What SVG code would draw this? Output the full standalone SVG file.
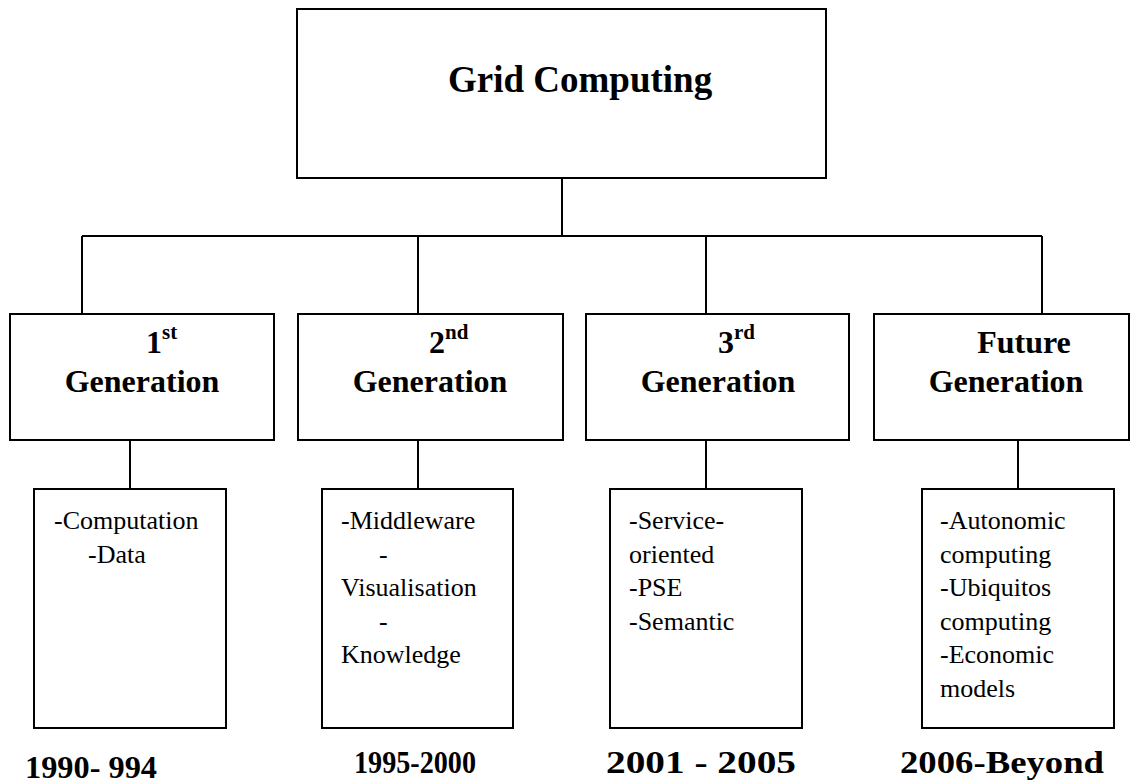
<svg xmlns="http://www.w3.org/2000/svg" width="1131" height="783" viewBox="0 0 1131 783">
  <style>
    .box { fill: #ffffff; stroke: #000000; stroke-width: 2; }
    .wire { fill: none; stroke: #000000; stroke-width: 2; }
    .title { font-family: "Liberation Serif", "Times New Roman", serif; font-weight: bold; font-size: 37px; fill: #000; }
    .gen { font-family: "Liberation Serif", "Times New Roman", serif; font-weight: bold; font-size: 32px; fill: #000; }
    .sup { font-size: 21px; }
    .item { font-family: "Liberation Serif", "Times New Roman", serif; font-size: 26px; fill: #000; }
    .year { font-family: "Liberation Serif", "Times New Roman", serif; font-weight: bold; font-size: 31px; fill: #000; }
  </style>

  <!-- connectors -->
  <g id="connectors">
    <line class="wire" x1="562" y1="178" x2="562" y2="236"/>
    <line class="wire" x1="82" y1="236" x2="1042" y2="236"/>
    <line class="wire" x1="82" y1="236" x2="82" y2="314"/>
    <line class="wire" x1="418" y1="236" x2="418" y2="314"/>
    <line class="wire" x1="706" y1="236" x2="706" y2="314"/>
    <line class="wire" x1="1042" y1="236" x2="1042" y2="314"/>
    <line class="wire" x1="130" y1="440" x2="130" y2="489"/>
    <line class="wire" x1="418" y1="440" x2="418" y2="489"/>
    <line class="wire" x1="706" y1="440" x2="706" y2="489"/>
    <line class="wire" x1="1018" y1="440" x2="1018" y2="489"/>
  </g>

  <!-- root -->
  <g id="grid-computing">
    <rect class="box" x="297" y="9" width="529" height="169"/>
    <text class="title" x="448" y="92">Grid Computing</text>
  </g>

  <!-- generations -->
  <g id="gen-1">
    <rect class="box" x="10" y="314" width="264" height="126"/>
    <text class="gen" x="146" y="353">1<tspan class="sup" dy="-14">st</tspan></text>
    <text class="gen" x="142" y="392" text-anchor="middle">Generation</text>
  </g>
  <g id="gen-2">
    <rect class="box" x="298" y="314" width="265" height="126"/>
    <text class="gen" x="429" y="353">2<tspan class="sup" dy="-14">nd</tspan></text>
    <text class="gen" x="430" y="392" text-anchor="middle">Generation</text>
  </g>
  <g id="gen-3">
    <rect class="box" x="586" y="314" width="263" height="126"/>
    <text class="gen" x="718" y="353">3<tspan class="sup" dy="-14">rd</tspan></text>
    <text class="gen" x="718" y="392" text-anchor="middle">Generation</text>
  </g>
  <g id="gen-future">
    <rect class="box" x="874" y="314" width="255" height="126"/>
    <text class="gen" x="1024" y="353" text-anchor="middle">Future</text>
    <text class="gen" x="1006" y="392" text-anchor="middle">Generation</text>
  </g>

  <!-- topics -->
  <g id="topics-1">
    <rect class="box" x="34" y="489" width="192" height="239"/>
    <text class="item" x="54" y="529">-Computation</text>
    <text class="item" x="88" y="562.5">-Data</text>
  </g>
  <g id="topics-2">
    <rect class="box" x="322" y="489" width="191" height="239"/>
    <text class="item" x="341" y="529">-Middleware</text>
    <text class="item" x="379" y="562.5">-</text>
    <text class="item" x="341" y="596">Visualisation</text>
    <text class="item" x="379" y="629.5">-</text>
    <text class="item" x="341" y="663">Knowledge</text>
  </g>
  <g id="topics-3">
    <rect class="box" x="610" y="489" width="192" height="239"/>
    <text class="item" x="629" y="529">-Service-</text>
    <text class="item" x="629" y="562.5">oriented</text>
    <text class="item" x="629" y="596">-PSE</text>
    <text class="item" x="629" y="629.5">-Semantic</text>
  </g>
  <g id="topics-future">
    <rect class="box" x="922" y="489" width="192" height="239"/>
    <text class="item" x="940" y="529">-Autonomic</text>
    <text class="item" x="940" y="562.5">computing</text>
    <text class="item" x="940" y="596">-Ubiquitos</text>
    <text class="item" x="940" y="629.5">computing</text>
    <text class="item" x="940" y="663">-Economic</text>
    <text class="item" x="940" y="697">models</text>
  </g>

  <!-- periods -->
  <g id="periods">
    <text class="year" x="25" y="778" textLength="132" lengthAdjust="spacingAndGlyphs">1990- 994</text>
    <text class="year" x="354" y="773" textLength="122" lengthAdjust="spacingAndGlyphs">1995-2000</text>
    <text class="year" x="606" y="773" textLength="190" lengthAdjust="spacingAndGlyphs">2001 - 2005</text>
    <text class="year" x="900" y="773" textLength="204" lengthAdjust="spacingAndGlyphs">2006-Beyond</text>
  </g>
</svg>
